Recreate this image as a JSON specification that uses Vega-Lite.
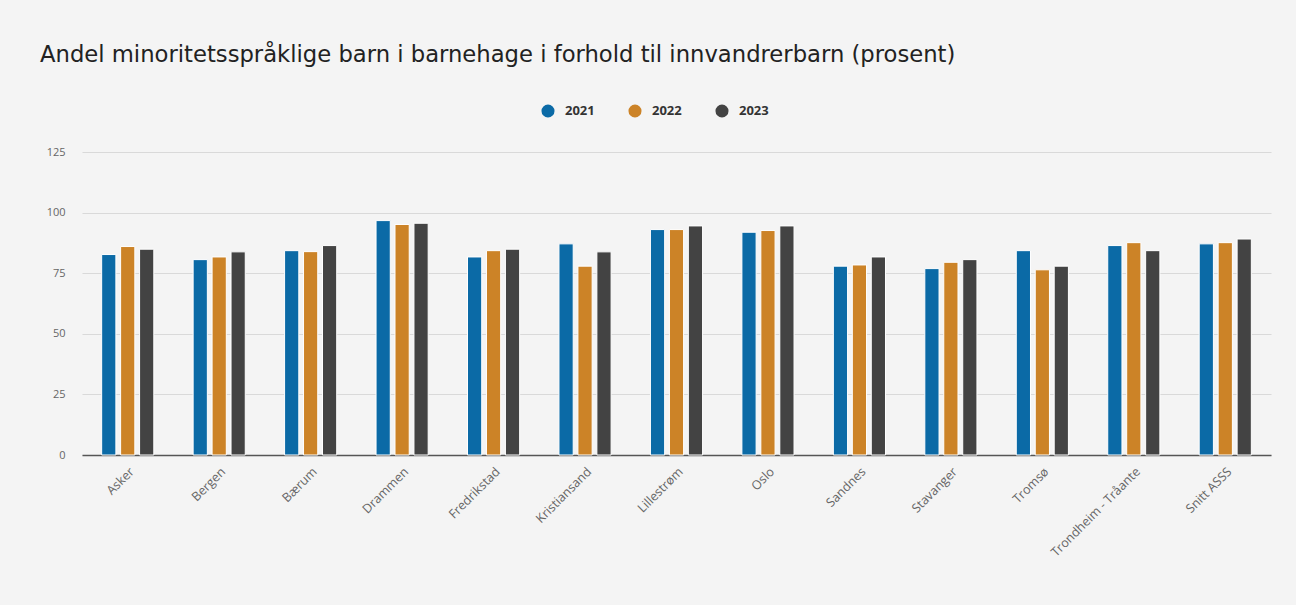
{
  "$schema": "https://vega.github.io/schema/vega-lite/v6.json",
  "autosize": "none",
  "width": 1189,
  "height": 303,
  "padding": {"left": 82, "top": 152, "right": 25, "bottom": 150},
  "background": "#f4f4f4",
  "title": {
    "text": "Andel minoritetsspråklige barn i barnehage i forhold til innvandrerbarn (prosent)",
    "anchor": "start",
    "frame": "group",
    "dx": -42,
    "offset": 37,
    "font": "DejaVu Sans",
    "fontSize": 22.7,
    "fontWeight": "normal",
    "color": "#222222"
  },
  "data": {
    "values": [
      {"kommune": "Asker", "year": "2021", "value": 82.7},
      {"kommune": "Asker", "year": "2022", "value": 86.0},
      {"kommune": "Asker", "year": "2023", "value": 84.9},
      {"kommune": "Bergen", "year": "2021", "value": 80.6},
      {"kommune": "Bergen", "year": "2022", "value": 81.7},
      {"kommune": "Bergen", "year": "2023", "value": 83.8},
      {"kommune": "Bærum", "year": "2021", "value": 84.3},
      {"kommune": "Bærum", "year": "2022", "value": 83.9},
      {"kommune": "Bærum", "year": "2023", "value": 86.4},
      {"kommune": "Drammen", "year": "2021", "value": 96.7},
      {"kommune": "Drammen", "year": "2022", "value": 95.1},
      {"kommune": "Drammen", "year": "2023", "value": 95.6},
      {"kommune": "Fredrikstad", "year": "2021", "value": 81.7},
      {"kommune": "Fredrikstad", "year": "2022", "value": 84.3},
      {"kommune": "Fredrikstad", "year": "2023", "value": 84.9},
      {"kommune": "Kristiansand", "year": "2021", "value": 87.1},
      {"kommune": "Kristiansand", "year": "2022", "value": 77.9},
      {"kommune": "Kristiansand", "year": "2023", "value": 83.8},
      {"kommune": "Lillestrøm", "year": "2021", "value": 93.0},
      {"kommune": "Lillestrøm", "year": "2022", "value": 93.0},
      {"kommune": "Lillestrøm", "year": "2023", "value": 94.5},
      {"kommune": "Oslo", "year": "2021", "value": 91.9},
      {"kommune": "Oslo", "year": "2022", "value": 92.6},
      {"kommune": "Oslo", "year": "2023", "value": 94.5},
      {"kommune": "Sandnes", "year": "2021", "value": 77.9},
      {"kommune": "Sandnes", "year": "2022", "value": 78.4},
      {"kommune": "Sandnes", "year": "2023", "value": 81.7},
      {"kommune": "Stavanger", "year": "2021", "value": 76.9},
      {"kommune": "Stavanger", "year": "2022", "value": 79.5},
      {"kommune": "Stavanger", "year": "2023", "value": 80.6},
      {"kommune": "Tromsø", "year": "2021", "value": 84.3},
      {"kommune": "Tromsø", "year": "2022", "value": 76.4},
      {"kommune": "Tromsø", "year": "2023", "value": 77.9},
      {"kommune": "Trondheim - Tråante", "year": "2021", "value": 86.4},
      {"kommune": "Trondheim - Tråante", "year": "2022", "value": 87.6},
      {"kommune": "Trondheim - Tråante", "year": "2023", "value": 84.3},
      {"kommune": "Snitt ASSS", "year": "2021", "value": 87.1},
      {"kommune": "Snitt ASSS", "year": "2022", "value": 87.6},
      {"kommune": "Snitt ASSS", "year": "2023", "value": 89.1}
    ]
  },
  "mark": {"type": "bar", "stroke": "#ffffff", "strokeWidth": 1},
  "encoding": {
    "x": {
      "field": "kommune",
      "type": "nominal",
      "sort": null,
      "scale": {"paddingInner": 0.43, "paddingOuter": 0.215},
      "axis": {
        "title": null,
        "labelAngle": -45,
        "labelFont": "Open Sans",
        "labelFontSize": 12.5,
        "labelColor": "#666666",
        "labelPadding": 10,
        "ticks": false,
        "domainColor": "#555555",
        "domainWidth": 1.5,
        "grid": false
      }
    },
    "xOffset": {
      "field": "year",
      "type": "nominal",
      "scale": {"paddingInner": 0.25}
    },
    "y": {
      "field": "value",
      "type": "quantitative",
      "scale": {"domain": [0, 125]},
      "axis": {
        "title": null,
        "values": [0, 25, 50, 75, 100, 125],
        "domain": false,
        "ticks": false,
        "labelPadding": 17,
        "labelFont": "Open Sans",
        "labelFontSize": 11,
        "labelColor": "#666666",
        "gridColor": "#d9d9d9",
        "gridWidth": 1
      }
    },
    "color": {
      "field": "year",
      "type": "nominal",
      "scale": {"domain": ["2021", "2022", "2023"], "range": ["#0b6aa6", "#cc8327", "#434343"]},
      "legend": {
        "title": null,
        "orient": "none",
        "legendX": 459,
        "legendY": -48,
        "direction": "horizontal",
        "symbolType": "circle",
        "symbolSize": 170,
        "symbolStrokeWidth": 0,
        "labelFont": "Open Sans",
        "labelFontSize": 13,
        "labelFontWeight": "bold",
        "labelColor": "#333333",
        "labelOffset": 10,
        "columnPadding": 33
      }
    }
  },
  "config": {
    "view": {"stroke": null}
  }
}
